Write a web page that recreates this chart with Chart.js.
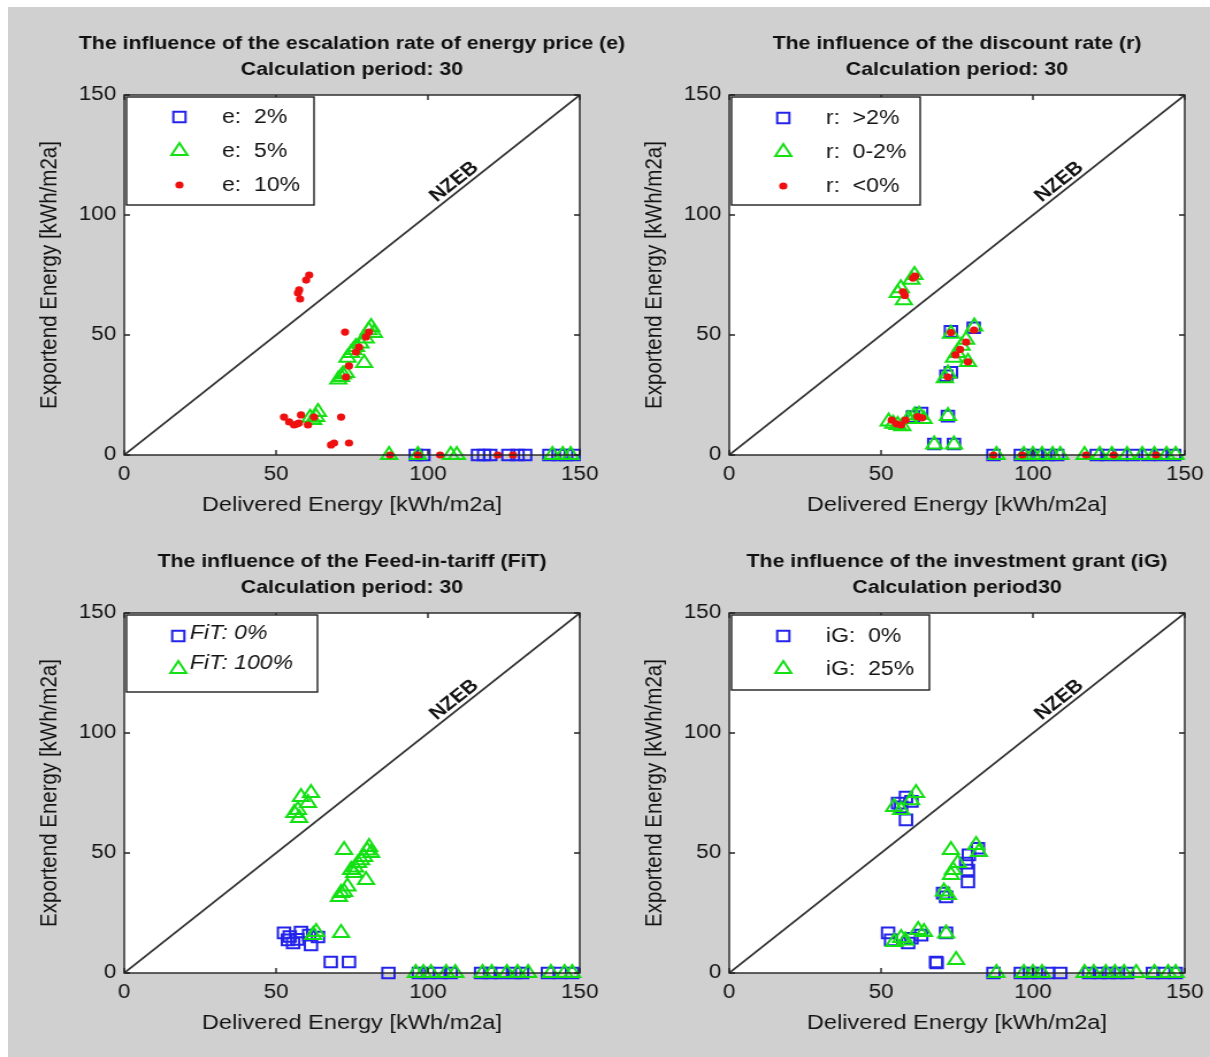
<!DOCTYPE html>
<html>
<head>
<meta charset="utf-8">
<title>NZEB parameter study</title>
<script src="https://cdn.jsdelivr.net/npm/chart.js@4.4.1/dist/chart.umd.min.js"></script>
<style>
  html, body { margin: 0; padding: 0; width: 1210px; height: 1057px; overflow: hidden; background: #d0d0d0; }
  #figure { position: relative; width: 1210px; height: 1057px; overflow: hidden; }
  .edge-top { position: absolute; left: 0; top: 0; width: 1210px; height: 7px; background: #ffffff; }
  .edge-left { position: absolute; left: 0; top: 0; width: 8px; height: 1057px; background: #ffffff; }
  canvas { position: absolute; width: 704px; height: 518px; }
</style>
</head>
<body>
<div id="figure">
  <div class="edge-top"></div>
  <div class="edge-left"></div>
  <canvas id="escalation" width="612" height="518" style="left:0px;top:0px;width:704px;height:518px"></canvas>
  <canvas id="discount" width="612" height="518" style="left:605px;top:0px;width:704px;height:518px"></canvas>
  <canvas id="feedin" width="612" height="518" style="left:0px;top:518px;width:704px;height:518px"></canvas>
  <canvas id="grant" width="612" height="518" style="left:605px;top:518px;width:704px;height:518px"></canvas>
</div>
<script>
// ---- axis range shared by all panels ----
const axisMin = 0;
const axisMax = 150;
const tickStep = 50;
const nzebLine = [[0, 0], [150, 150]];
const xAxisLabel = 'Delivered Energy [kWh/m2a]';
const yAxisLabel = 'Exportend Energy [kWh/m2a]';

// ---- escalation rate of energy price (e) ----
const escTitle = ['The influence of the escalation rate of energy price (e)', 'Calculation period: 30'];
const escLabels = ['e:  2%', 'e:  5%', 'e:  10%'];
const escRate2 = [[96,0],[98.5,0],[116.5,0],[118.5,0],[120.5,0],[126.5,0],[129.5,0],[132,0],[140,0],[143,0],[145.5,0],[148,0]];
const escRate5 = [[81.3,53.3],[82.2,50.8],[80.5,52],[79.5,48.5],[77.8,46.5],[76.3,45],[75.5,43.8],[74.7,42.5],[73.5,40.5],[79,38.3],[73,34.2],[72,33.5],[71.4,32.5],[70.5,31.5],[63.8,17.9],[63.2,15.8],[62.2,14.6],[61.2,15.5],[87.2,0],[96.7,0],[107.5,0],[109.5,0],[141,0],[144.4,0],[147,0]];
const escRate10 = [[60.9,75],[59.9,72.9],[57.6,68.8],[57.2,67.5],[57.9,65],[72.7,51.2],[80.6,51.2],[79.6,49.2],[77.3,45],[76.3,42.9],[74,37.1],[73,32.5],[52.6,15.8],[54.3,13.8],[55.9,12.5],[56.8,12.9],[57.5,13.3],[58.2,16.7],[60.5,12.5],[62.5,15.8],[71.4,15.8],[68.1,4.2],[69.1,5],[74,5],[87.5,0],[96.7,0],[104,0],[123,0],[128,0]];

// ---- discount rate (r) ----
const discTitle = ['The influence of the discount rate (r)', 'Calculation period: 30'];
const discLabels = ['r:  >2%', 'r:  0-2%', 'r:  <0%'];
const discHigh = [[73,51.5],[80.5,53],[73,34.5],[71.5,33],[63.2,17.5],[60.5,16],[72,16.2],[67.5,4.6],[74,4.6],[87,0],[96,0],[98.5,0],[101.5,0],[105,0],[108,0],[121,0],[124.5,0],[129,0],[133,0],[138,0],[142,0],[146.5,0]];
const discMid = [[55.5,67.5],[56.5,69.5],[57.5,64.5],[60,73],[61,75],[80.7,53.5],[78,48],[76.5,45.5],[75,42.5],[74,40.5],[78.6,38.8],[71,32],[72,34],[73,50.5],[52.5,14],[54,13],[55.5,12.5],[57,12],[59,15],[61,16.5],[62.5,16.8],[64,15],[72,16.2],[67.5,4.4],[74,4.4],[88,0],[97,0],[100,0],[103,0],[106.5,0],[109,0],[117,0],[122,0],[126,0],[131,0],[136,0],[140,0],[144,0],[147,0]];
const discNeg = [[57.2,68],[57.8,66.5],[60.5,73.7],[61.2,74.5],[73,51],[80.6,52],[78,47],[76,44],[74.5,41.7],[78.6,38.8],[72,32.5],[53.5,14.5],[55,13],[56.6,12.5],[58,14.5],[62,16],[63.5,15.5],[87,0],[96.5,0],[117.5,0],[126.6,0],[140.5,0]];

// ---- feed-in tariff (FiT) ----
const fitTitle = ['The influence of the Feed-in-tariff (FiT)', 'Calculation period: 30'];
const fitLabels = ['FiT: 0%', 'FiT: 100%'];
const fit0 = [[52.6,16.7],[53.9,13.8],[55.6,12.5],[54.5,15.2],[57,14],[58.2,17.1],[60.9,15.8],[63.8,15],[61.5,11.7],[68,4.6],[74,4.6],[87,0],[97,0],[100,0],[104,0],[107.5,0],[117.5,0],[120.5,0],[124,0],[128.5,0],[131,0],[139.5,0],[143.5,0],[147.5,0]];
const fit100 = [[56,66.7],[57.2,67.9],[57.6,64.6],[58.2,73.3],[60.5,70.8],[61.5,75],[72.4,51.2],[80.6,52.5],[81.3,50],[80,51],[79,48.3],[78,47],[77,45.8],[76,44],[74.7,42.9],[75.7,41.7],[79.6,38.8],[73.5,36],[72.4,33.8],[71.4,33.3],[70.7,31.7],[62.2,15.8],[63.2,17.1],[71.4,16.7],[96,0],[98.5,0],[101,0],[106,0],[109,0],[118,0],[121,0],[126,0],[129.5,0],[133,0],[140.5,0],[145,0],[147.5,0]];

// ---- investment grant (iG) ----
const grantTitle = ['The influence of the investment grant (iG)', 'Calculation period30'];
const grantLabels = ['iG:  0%', 'iG:  25%'];
const grant0 = [[55.6,70.8],[56.6,69.2],[58.2,63.8],[58.2,73.3],[60,71.5],[81.9,52],[78.9,49.2],[78,45.8],[78.6,42.9],[78.6,37.9],[70.4,33.3],[71.4,31.7],[52.3,16.7],[53.3,13.8],[58.9,12.5],[60,14.5],[63.2,15.8],[71.4,16.7],[68.1,4.6],[68.3,4.2],[87,0],[96,0],[99,0],[102,0],[105,0],[109,0],[118.5,0],[122,0],[125,0],[128,0],[131,0],[139.5,0],[143,0],[147,0]];
const grant25 = [[54.3,69.2],[56.6,67.9],[59.9,72],[61.5,75],[73,51.2],[81.3,53.3],[82.2,50.4],[75.3,45.8],[73.7,42.9],[73,40.8],[72,32.5],[70.7,34],[54.3,12.9],[56.6,14.6],[58,13.5],[62.2,17.9],[64.1,17.1],[71.4,16.5],[74.7,5.4],[88,0],[97,0],[100,0],[103,0],[117,0],[120,0],[124,0],[127,0],[130,0],[134,0],[140,0],[144.5,0],[147,0]];

// ---- styling ----
const FONT = "'Liberation Sans', Arial, Helvetica, sans-serif";
const TEXT = '#141414';
const MARKERS = {
  square:   { pointStyle: 'rect',     pointRadius: 7.5, pointBorderWidth: 2,   pointBorderColor: '#2323ea', pointBackgroundColor: 'rgba(0,0,0,0)' },
  triangle: { pointStyle: 'triangle', pointRadius: 8,   pointBorderWidth: 2,   pointBorderColor: '#14e014', pointBackgroundColor: 'rgba(0,0,0,0)' },
  dot:      { pointStyle: 'circle',   pointRadius: 3.6, pointBorderWidth: 0,   pointBorderColor: '#ee1010', pointBackgroundColor: '#ee1010' }
};

function drawMarker(ctx, st, x, y) {
  ctx.save();
  ctx.strokeStyle = st.pointBorderColor;
  ctx.fillStyle = st.pointBackgroundColor;
  ctx.lineWidth = st.pointBorderWidth;
  Chart.helpers.drawPoint(ctx, { pointStyle: st.pointStyle, radius: st.pointRadius, rotation: 0, borderWidth: st.pointBorderWidth }, x, y);
  ctx.restore();
}

// white plot box, inward ticks, NZEB label and boxed legend
const plotDecor = {
  id: 'plotDecor',
  beforeDatasetsDraw(chart) {
    const { ctx, chartArea: a } = chart;
    ctx.save();
    ctx.fillStyle = '#ffffff';
    ctx.fillRect(a.left, a.top, a.right - a.left, a.bottom - a.top);
    ctx.restore();
  },
  afterDatasetsDraw(chart, args, opts) {
    const { ctx, chartArea: a, scales: { x, y } } = chart;
    ctx.save();
    // frame
    ctx.strokeStyle = '#222222';
    ctx.lineWidth = 1.4;
    ctx.strokeRect(a.left, a.top, a.right - a.left, a.bottom - a.top);
    // inward ticks on all four sides
    const len = 5;
    ctx.beginPath();
    x.ticks.forEach(t => {
      const px = x.getPixelForValue(t.value);
      ctx.moveTo(px, a.bottom); ctx.lineTo(px, a.bottom - len);
      ctx.moveTo(px, a.top); ctx.lineTo(px, a.top + len);
    });
    y.ticks.forEach(t => {
      const py = y.getPixelForValue(t.value);
      ctx.moveTo(a.left, py); ctx.lineTo(a.left + len, py);
      ctx.moveTo(a.right, py); ctx.lineTo(a.right - len, py);
    });
    ctx.stroke();

    // NZEB label along the diagonal
    const ang = Math.atan2(y.getPixelForValue(axisMax) - y.getPixelForValue(axisMin),
                           x.getPixelForValue(axisMax) - x.getPixelForValue(axisMin));
    ctx.translate(x.getPixelForValue(opts.nzebAt), y.getPixelForValue(opts.nzebAt));
    ctx.rotate(ang);
    ctx.font = 'bold 18.5px ' + FONT;
    ctx.fillStyle = TEXT;
    ctx.textAlign = 'center';
    ctx.textBaseline = 'alphabetic';
    ctx.fillText('NZEB', 0, -opts.nzebLift);
    ctx.setTransform(1, 0, 0, 1, 0, 0);

    // legend box
    const L = opts.legend;
    const bx = a.left + L.inset, by = a.top + L.inset;
    ctx.fillStyle = '#ffffff';
    ctx.fillRect(bx, by, L.w, L.h);
    ctx.strokeStyle = '#1e1e1e';
    ctx.lineWidth = 1.4;
    ctx.strokeRect(bx, by, L.w, L.h);
    ctx.font = (L.italic ? 'italic ' : '') + '20px ' + FONT;
    ctx.textAlign = 'left';
    ctx.textBaseline = 'middle';
    chart.data.datasets.forEach((d, i) => {
      if (d.isReference) return;
      drawMarker(ctx, d, bx + L.markerX, by + L.markerRows[i]);
      ctx.fillStyle = TEXT;
      ctx.fillText(d.label, bx + L.textX, by + L.textRows[i]);
    });
    ctx.restore();
  }
};

function makePanel(canvasId, title, series, legend) {
  const datasets = series.map((s, i) => Object.assign({
    label: s.label,
    data: s.points.map(p => ({ x: p[0], y: p[1] })),
    showLine: false,
    order: series.length - i,
    clip: false
  }, MARKERS[s.marker]));
  datasets.push({
    label: 'NZEB',
    isReference: true,
    data: nzebLine.map(p => ({ x: p[0], y: p[1] })),
    showLine: true,
    pointRadius: 0,
    borderColor: '#333333',
    borderWidth: 1.7,
    order: series.length + 1
  });

  const tickFont = { family: FONT, size: 19.5 };
  const titleFont = { family: FONT, size: 20.5, lineHeight: 1.2 };

  return new Chart(document.getElementById(canvasId), {
    type: 'scatter',
    data: { datasets },
    plugins: [plotDecor],
    options: {
      responsive: false,
      animation: false,
      devicePixelRatio: 1,
      layout: { padding: 0 },
      scales: {
        x: {
          type: 'linear', min: axisMin, max: axisMax,
          ticks: { stepSize: tickStep, padding: 8, font: tickFont, color: TEXT, maxRotation: 0 },
          grid: { display: false, drawTicks: false },
          border: { display: false },
          title: { display: true, text: xAxisLabel, font: titleFont, color: TEXT, padding: { top: 0, bottom: 0 } },
          afterFit(s) { s.height = 63; s.paddingRight = 108; }
        },
        y: {
          type: 'linear', min: axisMin, max: axisMax,
          ticks: { stepSize: tickStep, padding: 7, font: tickFont, color: TEXT },
          grid: { display: false, drawTicks: false },
          border: { display: false },
          title: { display: true, text: yAxisLabel, font: titleFont, color: TEXT, padding: { top: 31, bottom: 0 } },
          afterFit(s) { s.width = 108; }
        }
      },
      plugins: {
        legend: { display: false },
        tooltip: { enabled: false },
        title: {
          display: true,
          text: title,
          color: '#101010',
          font: { family: FONT, size: 18.5, weight: 'bold', lineHeight: '26px' },
          padding: { top: 31, bottom: 12 }
        },
        plotDecor: { nzebAt: 111, nzebLift: 4, legend }
      }
    }
  });
}

makePanel('escalation', escTitle, [
  { label: escLabels[0], points: escRate2, marker: 'square' },
  { label: escLabels[1], points: escRate5, marker: 'triangle' },
  { label: escLabels[2], points: escRate10, marker: 'dot' }
], { inset: 2, w: 163, h: 108, markerX: 46, textX: 83, markerRows: [20, 54, 88], textRows: [20, 54, 88], italic: false });

makePanel('discount', discTitle, [
  { label: discLabels[0], points: discHigh, marker: 'square' },
  { label: discLabels[1], points: discMid, marker: 'triangle' },
  { label: discLabels[2], points: discNeg, marker: 'dot' }
], { inset: 2, w: 164, h: 108, markerX: 45, textX: 82, markerRows: [21, 55, 89], textRows: [21, 55, 89], italic: false });

makePanel('feedin', fitTitle, [
  { label: fitLabels[0], points: fit0, marker: 'square' },
  { label: fitLabels[1], points: fit100, marker: 'triangle' }
], { inset: 2, w: 166, h: 77, markerX: 45, textX: 55, markerRows: [21, 54], textRows: [18, 48], italic: true });

makePanel('grant', grantTitle, [
  { label: grantLabels[0], points: grant0, marker: 'square' },
  { label: grantLabels[1], points: grant25, marker: 'triangle' }
], { inset: 2, w: 172, h: 75, markerX: 45, textX: 82, markerRows: [21, 54], textRows: [21, 54], italic: false });
</script>
</body>
</html>
